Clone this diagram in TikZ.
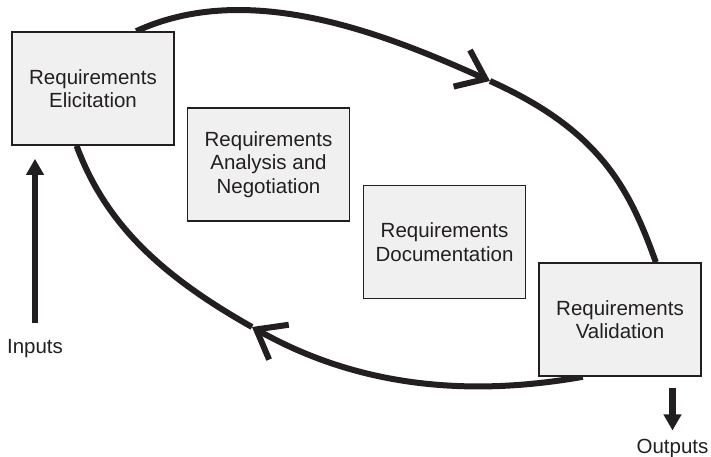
\documentclass[tikz,border=0pt]{standalone}
\usepackage{fontspec}
\setmainfont{Liberation Sans}
\usetikzlibrary{arrows.meta,backgrounds}
\definecolor{ink}{RGB}{35,31,32}
\definecolor{boxgray}{RGB}{240,240,240}

\begin{document}
\begin{tikzpicture}[x=1pt,y=1pt,
    stage/.style={draw=ink, fill=boxgray, line width=1.6pt, minimum width=162pt, minimum height=113pt, align=center, text=ink, font=\fontsize{20.5}{23.5}\selectfont},
    cycleline/.style={draw=ink, line width=6pt},
    chev/.style={-{Straight Barb[length=26pt,width=40pt]}},
    io/.style={draw=ink, line width=6.5pt, -{Triangle[length=16pt,width=17pt]}},
    lbl/.style={text=ink, font=\fontsize{20.5}{23.5}\selectfont, anchor=base, inner sep=0pt}]
	    \useasboundingbox (0,0) rectangle (711,-457);
	    \node[stage] (elic) at (93,-88.5) {Requirements\\Elicitation};
	    \node[stage] (anal) at (268.5,-164.5) {Requirements\\Analysis and\\Negotiation};
	    \node[stage] (docu) at (444.5,-242) {Requirements\\Documentation};
	    \node[stage] (valid) at (620,-319.5) {Requirements\\Validation};
	    \node[lbl] (inputs) at (35,-353) {Inputs};
	    \node[lbl] (outputs) at (672.5,-453) {Outputs};
	    \coordinate (tipA) at (490,-81);
	    \coordinate (tipB) at (252,-327);
	    % the cycle runs behind the boxes
	    \begin{scope}[on background layer]
	    \draw[cycleline, chev] (elic.53) .. controls (247,20) and (381,-32) .. (tipA);
	    \draw[cycleline] (tipA) .. controls (599,-130) and (629,-187) .. (valid.58);
	    \draw[cycleline, chev] (valid.237) .. controls (465.4,-397.6) and (356.4,-385.8) .. (tipB);
	    \draw[cycleline] (tipB) .. controls (156.3,-273.1) and (104.2,-220.2) .. (elic.254);
	    \end{scope}
	    \draw[io, shorten <=16pt, shorten >=13pt] (inputs.north) -- (inputs.north |- elic.south);
	    \draw[io, shorten <=11pt, shorten >=8pt] (outputs.north |- valid.south) -- (outputs.north);
	\end{tikzpicture}
\end{document}
